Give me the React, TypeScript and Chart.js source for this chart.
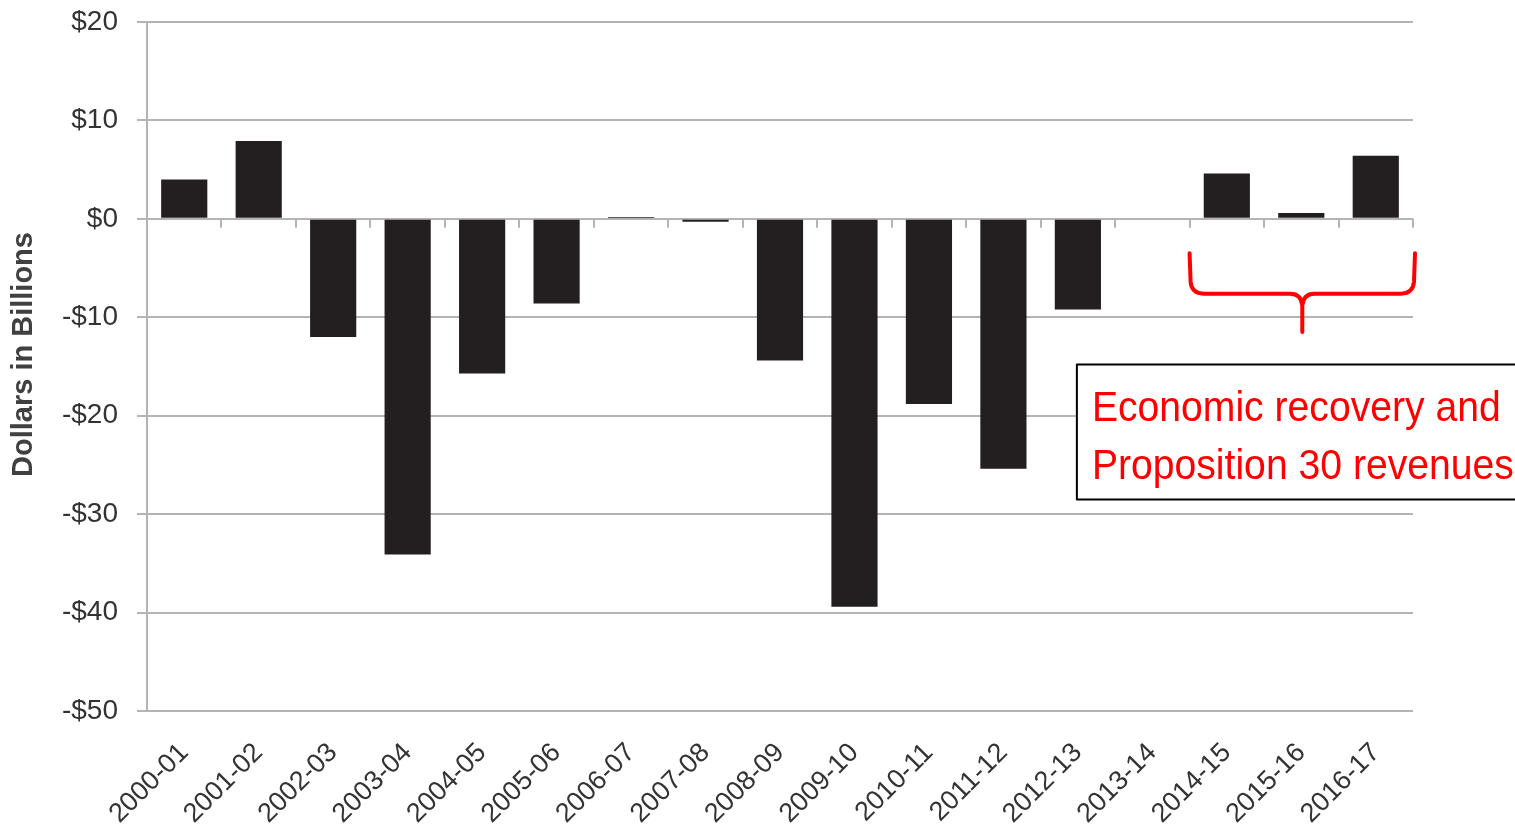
import React, { useEffect, useRef } from 'react';
import { Chart, registerables } from 'chart.js';

Chart.register(...registerables);

const categories = [
  '2000-01', '2001-02', '2002-03', '2003-04', '2004-05', '2005-06', '2006-07', '2007-08', '2008-09',
  '2009-10', '2010-11', '2011-12', '2012-13', '2013-14', '2014-15', '2015-16', '2016-17',
];
const balances = [4.0, 7.9, -12.0, -34.1, -15.7, -8.6, 0.2, -0.3, -14.4, -39.4, -18.8, -25.4, -9.2, 0, 4.6, 0.6, 6.4];
const yMin = -50;
const yMax = 20;
const yStep = 10;
const yTitle = 'Dollars in Billions';
const annotationLines = ['Economic recovery and', 'Proposition 30 revenues'];

const GRID = '#b4b4b4';
const BAR = '#231f20';
const TEXT = '#333333';
const RED = '#ff0000';
const FONT = '"Liberation Sans", Arial, sans-serif';

const overlayPlugin = {
  id: 'overlay',
  afterDatasetsDraw(chart: any) {
    const { ctx, chartArea, scales } = chart;
    const x = scales.x;
    const y = scales.y;
    const n = categories.length;
    const cw = (chartArea.right - chartArea.left) / n;
    const y0 = y.getPixelForValue(0);
    ctx.save();
    // tick marks on the zero line at category boundaries
    ctx.strokeStyle = GRID;
    ctx.lineWidth = 2;
    for (let i = 1; i <= n; i++) {
      const px = Math.round(chartArea.left + i * cw);
      ctx.beginPath();
      ctx.moveTo(px, y0);
      ctx.lineTo(px, y0 + 9);
      ctx.stroke();
    }
    // brace
    const bl = x.getPixelForValue(14) - cw / 2;
    const br = chartArea.right + 2;
    const bt = y.getPixelForValue(-3.5);
    const bm = y.getPixelForValue(-7.6);
    const bb = y.getPixelForValue(-11.5);
    const mid = (bl + br) / 2;
    ctx.strokeStyle = RED;
    ctx.lineWidth = 4;
    ctx.lineCap = 'round';
    ctx.lineJoin = 'round';
    ctx.beginPath();
    ctx.moveTo(bl, bt);
    ctx.lineTo(bl + 1, bm - 12);
    ctx.quadraticCurveTo(bl + 2, bm, bl + 14, bm);
    ctx.lineTo(mid - 12, bm);
    ctx.quadraticCurveTo(mid - 1, bm, mid, bm + 12);
    ctx.lineTo(mid, bb);
    ctx.moveTo(mid, bm + 12);
    ctx.quadraticCurveTo(mid + 1, bm, mid + 12, bm);
    ctx.lineTo(br - 14, bm);
    ctx.quadraticCurveTo(br - 2, bm, br - 1, bm - 12);
    ctx.lineTo(br, bt);
    ctx.stroke();
    // annotation box
    const boxL = x.getPixelForValue(12) - 1;
    const boxT = y.getPixelForValue(-14.8);
    const boxB = y.getPixelForValue(-28.5);
    const boxR = chart.width + 10;
    ctx.fillStyle = '#ffffff';
    ctx.fillRect(boxL, boxT, boxR - boxL, boxB - boxT);
    ctx.strokeStyle = '#000000';
    ctx.lineWidth = 2;
    ctx.strokeRect(boxL, boxT, boxR - boxL, boxB - boxT);
    ctx.fillStyle = RED;
    ctx.font = `43px ${FONT}`;
    ctx.textAlign = 'left';
    ctx.textBaseline = 'alphabetic';
    annotationLines.forEach((line, i) => {
      ctx.save();
      ctx.translate(boxL + 15, boxT + 56 + i * 58);
      ctx.scale(0.91, 1);
      ctx.fillText(line, 0, 0);
      ctx.restore();
    });
    // y axis title
    ctx.save();
    ctx.translate(24, (y.getPixelForValue(yMax) + y.getPixelForValue(yMin)) / 2 - 12);
    ctx.rotate(-Math.PI / 2);
    ctx.fillStyle = '#404040';
    ctx.font = `bold 29px ${FONT}`;
    ctx.textAlign = 'center';
    ctx.textBaseline = 'middle';
    ctx.fillText(yTitle, 0, 0);
    ctx.restore();
    ctx.restore();
  },
};

export default function App() {
  const ref = useRef<HTMLCanvasElement>(null);
  useEffect(() => {
    document.body.style.margin = '0';
    if (!ref.current) return;
    const chart = new Chart(ref.current, {
      type: 'bar',
      data: {
        labels: categories,
        datasets: [
          {
            data: balances,
            backgroundColor: BAR,
            borderWidth: 0,
            barPercentage: 0.62,
            categoryPercentage: 1,
          },
        ],
      },
      options: {
        responsive: false,
        animation: false,
        devicePixelRatio: 1,
        layout: { padding: { top: 22, right: 102, left: 0, bottom: 0 } },
        plugins: { legend: { display: false }, tooltip: { enabled: false } },
        scales: {
          x: {
            grid: { display: false, drawTicks: false },
            border: { display: false },
            ticks: {
              minRotation: 45,
              maxRotation: 45,
              autoSkip: false,
              padding: 26,
              color: TEXT,
              font: { family: FONT, size: 27 },
            },
            afterFit(scale: any) {
              scale.height = 118;
              scale.paddingTop = 0;
            },
          },
          y: {
            min: yMin,
            max: yMax,
            ticks: {
              stepSize: yStep,
              padding: 19,
              color: TEXT,
              font: { family: FONT, size: 28 },
              callback: (v: any) => (Number(v) < 0 ? `-$${-Number(v)}` : `$${v}`),
            },
            grid: { color: GRID, lineWidth: 2, tickLength: 10, tickColor: GRID },
            border: { display: true, color: GRID, width: 2 },
            afterFit(scale: any) {
              scale.width = 147;
              scale.paddingTop = 0;
              scale.paddingBottom = 0;
            },
          },
        },
      },
      plugins: [overlayPlugin],
    });
    return () => chart.destroy();
  }, []);
  return (
    <div style={{ position: 'absolute', left: 0, top: 0, width: 1515, height: 829 }}>
      <canvas ref={ref} width={1515} height={829} />
    </div>
  );
}
